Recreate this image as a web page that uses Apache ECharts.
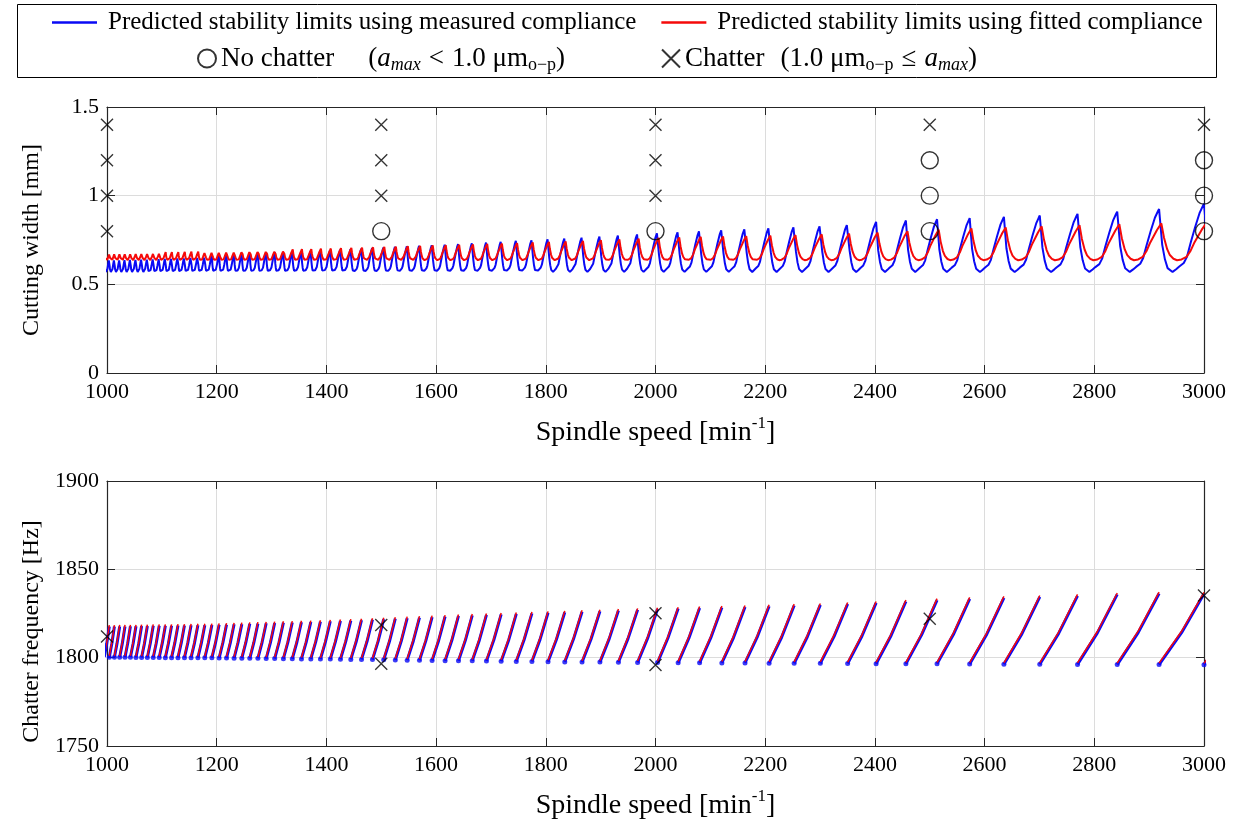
<!DOCTYPE html>
<html>
<head>
<meta charset="utf-8">
<script src="https://cdn.jsdelivr.net/npm/echarts@6/dist/echarts.min.js"></script>
<style>html,body{margin:0;padding:0;background:#fff;}#chart{width:1241px;height:830px;}</style>
</head>
<body>
<div id="chart"></div>
<script>
// ---------------- DATA ----------------
// Spindle speeds [min^-1] of the lobe cusps (where neighbouring stability lobes meet)
const cuspSpeeds = [995.0,1004.2,1013.5,1023.1,1032.8,1042.7,1052.8,1063.1,1073.6,1084.3,
  1095.2,1106.4,1117.7,1129.4,1141.2,1153.3,1165.7,1178.3,1191.2,1204.4,
  1217.9,1231.7,1245.8,1260.3,1275.1,1290.2,1305.7,1321.6,1337.8,1354.5,
  1371.6,1389.1,1407.1,1425.6,1444.5,1464.0,1484.0,1504.5,1525.6,1547.3,
  1569.7,1592.7,1616.4,1640.8,1665.9,1691.8,1718.6,1746.2,1774.7,1804.1,
  1834.6,1866.1,1898.7,1932.4,1967.4,2003.7,2041.3,2080.4,2121.0,2163.2,
  2207.1,2252.8,2300.5,2350.3,2402.2,2456.5,2513.3,2572.8,2635.2,2700.6,
  2769.4,2841.8,2918.1,3000.0,3085.0];
// Cutting width [mm] at each cusp (lobe peak) – measured compliance (blue)
const peakMeasured = [0.645,0.645,0.645,0.646,0.647,0.648,0.649,0.650,0.651,0.652,
  0.653,0.655,0.656,0.658,0.659,0.661,0.662,0.664,0.666,0.668,
  0.670,0.672,0.674,0.676,0.678,0.680,0.682,0.684,0.687,0.689,
  0.692,0.694,0.697,0.700,0.703,0.706,0.710,0.713,0.717,0.720,
  0.723,0.727,0.730,0.734,0.738,0.742,0.747,0.752,0.756,0.761,
  0.766,0.771,0.777,0.783,0.790,0.797,0.803,0.808,0.814,0.820,
  0.826,0.832,0.838,0.845,0.852,0.860,0.867,0.873,0.880,0.888,
  0.897,0.910,0.925,0.955,0.970];
// Cutting width [mm] at each cusp – fitted compliance (red)
const peakFitted = [0.675,0.675,0.676,0.676,0.677,0.677,0.678,0.678,0.679,0.679,
  0.680,0.681,0.681,0.682,0.683,0.684,0.684,0.685,0.686,0.687,
  0.688,0.689,0.690,0.691,0.692,0.693,0.694,0.695,0.697,0.698,
  0.699,0.701,0.702,0.704,0.705,0.707,0.709,0.711,0.713,0.715,
  0.717,0.719,0.721,0.723,0.725,0.728,0.730,0.733,0.736,0.739,
  0.742,0.745,0.749,0.753,0.757,0.762,0.765,0.768,0.770,0.772,
  0.775,0.778,0.782,0.786,0.792,0.800,0.808,0.815,0.821,0.827,
  0.833,0.839,0.844,0.846,0.850];
// Lobe bottoms [mm]
const troughMeasured = 0.570;
const troughFitted = 0.636;
// Shape of one lobe, read from the large lobes near 2800 min^-1:
// [position in lobe (0 = left cusp, 1 = right cusp), height (0 = trough, 1 = peak), which peak it refers to]
const lobeShapeMeasured = [[0,1,'L'],[0.07,0.43,'L'],[0.13,0.2,'L'],[0.19,0.06,'L'],[0.30,0,'L'],
  [0.38,0.04,'R'],[0.45,0.08,'R'],[0.55,0.13,'R'],[0.62,0.22,'R'],[0.70,0.42,'R'],
  [0.80,0.65,'R'],[0.90,0.86,'R'],[0.97,0.96,'R'],[1,1,'R']];
const lobeShapeFitted = [[0.05,1,'L'],[0.11,0.61,'L'],[0.18,0.30,'L'],[0.24,0.14,'L'],[0.32,0.04,'L'],
  [0.40,0,'L'],[0.50,0.02,'R'],[0.61,0.09,'R'],[0.70,0.25,'R'],[0.78,0.46,'R'],
  [0.87,0.65,'R'],[0.95,0.82,'R'],[1.05,1,'R']];
// Chatter frequency [Hz] at the start (left cusp) and end (right cusp) of each lobe
const freqStartMeasured = [1800.3,1800.2,1800.2,1800.2,1800.2,1800.2,1800.1,1800.1,1800.1,1800.1,
  1800.1,1800.0,1800.0,1800.0,1800.0,1800.0,1799.9,1799.9,1799.9,1799.8,
  1799.8,1799.7,1799.7,1799.6,1799.6,1799.5,1799.5,1799.4,1799.4,1799.3,
  1799.3,1799.2,1799.2,1799.1,1799.0,1799.0,1798.9,1798.8,1798.7,1798.6,
  1798.5,1798.4,1798.3,1798.3,1798.2,1798.1,1798.0,1797.9,1797.8,1797.7,
  1797.6,1797.5,1797.5,1797.4,1797.3,1797.2,1797.1,1797.1,1797.0,1797.0,
  1796.9,1796.8,1796.8,1796.7,1796.6,1796.5,1796.5,1796.4,1796.3,1796.3,
  1796.2,1796.1,1796.1,1796.0,1796.0];
const freqEndMeasured = [1817.5,1817.6,1817.6,1817.7,1817.7,1817.8,1817.8,1817.9,1817.9,1818.0,
  1818.0,1818.1,1818.1,1818.2,1818.2,1818.3,1818.4,1818.4,1818.5,1818.6,
  1818.7,1818.9,1819.0,1819.2,1819.3,1819.5,1819.6,1819.8,1819.9,1820.1,
  1820.2,1820.4,1820.6,1820.8,1821.0,1821.2,1821.5,1821.8,1822.1,1822.4,
  1822.7,1823.0,1823.3,1823.6,1823.9,1824.2,1824.5,1824.8,1825.1,1825.4,
  1825.7,1826.0,1826.3,1826.7,1827.1,1827.5,1827.8,1828.1,1828.4,1828.7,
  1829.1,1829.5,1829.9,1830.4,1831.0,1831.8,1832.6,1833.3,1833.9,1834.4,
  1835.0,1835.8,1836.3,1836.2,1836.5];
const freqStartFitted = [1801.1,1801.0,1801.0,1801.0,1801.0,1801.0,1800.9,1800.9,1800.9,1800.9,
  1800.9,1800.8,1800.8,1800.8,1800.8,1800.8,1800.7,1800.7,1800.7,1800.6,
  1800.6,1800.5,1800.5,1800.4,1800.4,1800.3,1800.3,1800.2,1800.2,1800.1,
  1800.1,1800.0,1800.0,1799.9,1799.8,1799.8,1799.7,1799.6,1799.5,1799.4,
  1799.3,1799.2,1799.1,1799.1,1799.0,1798.9,1798.8,1798.7,1798.6,1798.5,
  1798.4,1798.3,1798.3,1798.2,1798.1,1798.0,1797.9,1797.9,1797.8,1797.8,
  1797.7,1797.6,1797.6,1797.5,1797.4,1797.3,1797.3,1797.2,1797.1,1797.1,
  1797.0,1796.9,1796.9,1796.8,1796.8];
const freqEndFitted = [1818.3,1818.4,1818.4,1818.5,1818.5,1818.6,1818.6,1818.7,1818.7,1818.8,
  1818.8,1818.9,1818.9,1819.0,1819.0,1819.1,1819.2,1819.2,1819.3,1819.4,
  1819.5,1819.7,1819.8,1820.0,1820.1,1820.3,1820.4,1820.6,1820.7,1820.9,
  1821.0,1821.2,1821.4,1821.6,1821.8,1822.0,1822.3,1822.6,1822.9,1823.2,
  1823.5,1823.8,1824.1,1824.4,1824.7,1825.0,1825.3,1825.6,1825.9,1826.2,
  1826.5,1826.8,1827.1,1827.5,1827.9,1828.3,1828.6,1828.9,1829.2,1829.5,
  1829.9,1830.3,1830.7,1831.2,1831.8,1832.6,1833.4,1834.1,1834.7,1835.2,
  1835.8,1836.6,1837.1,1837.0,1837.3];
// Curvature of one frequency segment: [position in lobe, fraction of the rise]
const freqShape = [[0,0],[0.5,0.45],[1,1]];
// Cutting tests
const noChatterTests = [[1500,0.8],[2000,0.8],[2500,1.2],[2500,1.0],[2500,0.8],[3000,1.2],[3000,1.0],[3000,0.8]];
const chatterTests = [[1000,1.4],[1000,1.2],[1000,1.0],[1000,0.8],[1500,1.4],[1500,1.2],[1500,1.0],
  [2000,1.4],[2000,1.2],[2000,1.0],[2500,1.4],[3000,1.4]];
const chatterFrequencies = [[1000,1812.0],[1500,1818.5],[1500,1796.5],[2000,1825.2],[2000,1795.8],[2500,1822.0],[3000,1835.2]];
// Axes
const speedRange = [1000, 3000, 200];
const widthRange = [0, 1.5, 0.5];
const freqRange = [1750, 1900, 50];
const nameMeasured = 'Predicted stability limits using measured compliance';
const nameFitted = 'Predicted stability limits using fitted compliance';
const nameNoChatter = 'No chatter';
const nameChatter = 'Chatter';

// ---------------- BUILD CURVES FROM THE ARRAYS ----------------
function lobeCurve(peaks, trough, shape) {
  const pts = [];
  const n = cuspSpeeds.length - 1;
  for (let i = 0; i < n; i++) {
    const left = cuspSpeeds[i], right = cuspSpeeds[i + 1], w = right - left;
    shape.forEach((p, k) => {
      if (k === shape.length - 1 && i < n - 1) return;
      const peak = p[2] === 'L' ? peaks[i] : peaks[i + 1];
      pts.push([left + p[0] * w, trough + p[1] * (peak - trough)]);
    });
  }
  return pts;
}
function freqSegments(fs, fe) {
  const pts = [];
  for (let i = 0; i < cuspSpeeds.length - 1; i++) {
    const left = cuspSpeeds[i], right = cuspSpeeds[i + 1], w = right - left;
    freqShape.forEach(p => pts.push([left + p[0] * w, fs[i] + p[1] * (fe[i + 1] - fs[i])]));
    pts.push([right, '-']);
  }
  return pts;
}
const segStartDots = cuspSpeeds.slice(0, -1).map((s, i) => [s, freqStartMeasured[i]]);

// ---------------- CHART ----------------
const FONT = "'Liberation Serif','Times New Roman',serif";
const AX = '#262626';
const GRIDC = '#dcdcdc';
const BLUE = '#0a0af5';
const RED = '#f50a0a';
const xSym = 'path://M0,0L10,10M10,0L0,10';
const plainNum = v => String(v);

function xAxes(gridIndex) {
  const base = {type: 'value', gridIndex, min: speedRange[0], max: speedRange[1], interval: speedRange[2]};
  return [
    Object.assign({}, base, {
      position: 'bottom',
      name: 'Spindle speed [min{sup|-1}]', nameLocation: 'middle', nameGap: 42,
      nameTextStyle: {fontFamily: FONT, fontSize: 28, color: '#000',
        rich: {sup: {fontFamily: FONT, fontSize: 17, color: '#000', padding: [0, 0, 18, 0]}}},
      axisLine: {show: true, onZero: false, lineStyle: {color: AX, width: 1.2}},
      axisTick: {show: true, inside: true, length: 8, lineStyle: {color: AX}},
      axisLabel: {fontFamily: FONT, fontSize: 22, color: '#000', margin: 8, formatter: plainNum},
      splitLine: {show: true, lineStyle: {color: GRIDC, width: 1}}
    }),
    Object.assign({}, base, {
      position: 'top',
      axisLine: {show: true, onZero: false, lineStyle: {color: AX, width: 1.2}},
      axisTick: {show: true, inside: true, length: 8, lineStyle: {color: AX}},
      axisLabel: {show: false}, splitLine: {show: false}
    })
  ];
}
function yAxes(gridIndex, range, name, namePad) {
  const base = {type: 'value', gridIndex, min: range[0], max: range[1], interval: range[2]};
  return [
    Object.assign({}, base, {
      position: 'left', name, nameLocation: 'middle', nameGap: 63,
      nameTextStyle: {fontFamily: FONT, fontSize: 24, color: '#000', padding: namePad},
      axisLine: {show: true, onZero: false, lineStyle: {color: AX, width: 1.2}},
      axisTick: {show: true, inside: true, length: 8, lineStyle: {color: AX}},
      axisLabel: {fontFamily: FONT, fontSize: 22, color: '#000', margin: 8, formatter: plainNum},
      splitLine: {show: true, lineStyle: {color: GRIDC, width: 1}}
    }),
    Object.assign({}, base, {
      position: 'right',
      axisLine: {show: true, onZero: false, lineStyle: {color: AX, width: 1.2}},
      axisTick: {show: true, inside: true, length: 8, lineStyle: {color: AX}},
      axisLabel: {show: false}, splitLine: {show: false}
    })
  ];
}

const legendRich = {
  it: {fontFamily: FONT, fontStyle: 'italic', fontSize: 27, color: '#000'},
  subit: {fontFamily: FONT, fontStyle: 'italic', fontSize: 18, color: '#000', padding: [14, 0, 0, 0]},
  sub: {fontFamily: FONT, fontSize: 18, color: '#000', padding: [14, 0, 0, 0]},
  op: {fontFamily: FONT, fontSize: 27, color: '#000', padding: [0, 8, 0, 8]},
  gapA: {width: 34},
  gapB: {width: 16}
};

const option = {
  animation: false,
  backgroundColor: '#fff',
  graphic: [{type: 'rect', shape: {x: 17.5, y: 4.5, width: 1199, height: 73},
    style: {fill: 'none', stroke: '#000', lineWidth: 1}, silent: true}],
  legend: [
    {data: [nameMeasured, nameFitted], left: 47, top: 5, icon: 'rect', itemWidth: 45, itemHeight: 2.5, itemGap: 25,
      selectedMode: false, textStyle: {fontFamily: FONT, fontSize: 25, color: '#000', padding: [0, 0, 0, 6]}},
    {data: [nameNoChatter, nameChatter], left: 192, top: 40, itemWidth: 18, itemHeight: 18, itemGap: 96,
      selectedMode: false,
      textStyle: {fontFamily: FONT, fontSize: 27, color: '#000', rich: legendRich},
      formatter: function (name) {
        if (name === nameNoChatter) return 'No chatter{gapA|}({it|a}{subit|max}{op|<}1.0 μm{sub|o−p})';
        return 'Chatter{gapB|}(1.0 μm{sub|o−p}{op|≤}{it|a}{subit|max})';
      }}
  ],
  grid: [
    {left: 107, top: 107, width: 1097, height: 266},
    {left: 107, top: 481, width: 1097, height: 265}
  ],
  xAxis: [...xAxes(0), ...xAxes(1)],
  yAxis: [...yAxes(0, widthRange, 'Cutting width [mm]', [0, 0, 0, 0]),
          ...yAxes(1, freqRange, 'Chatter frequency [Hz]', [0, 36, 0, 0])],
  series: [
    {name: nameMeasured, type: 'line', xAxisIndex: 0, yAxisIndex: 0, data: lobeCurve(peakMeasured, troughMeasured, lobeShapeMeasured),
      showSymbol: false, symbol: 'none', lineStyle: {color: BLUE, width: 2}, itemStyle: {color: BLUE}, z: 3},
    {name: nameFitted, type: 'line', xAxisIndex: 0, yAxisIndex: 0, data: lobeCurve(peakFitted, troughFitted, lobeShapeFitted),
      showSymbol: false, symbol: 'none', lineStyle: {color: RED, width: 2}, itemStyle: {color: RED}, z: 4},
    {name: nameNoChatter, type: 'scatter', xAxisIndex: 0, yAxisIndex: 0, data: noChatterTests, symbol: 'circle', symbolSize: 17,
      itemStyle: {color: 'rgba(0,0,0,0)', borderColor: '#000', borderWidth: 1.4}, z: 5},
    {name: nameChatter, type: 'scatter', xAxisIndex: 0, yAxisIndex: 0, data: chatterTests, symbol: xSym, symbolSize: 12,
      itemStyle: {color: 'rgba(0,0,0,0)', borderColor: '#000', borderWidth: 1.4}, z: 5},
    {name: nameMeasured, type: 'line', xAxisIndex: 2, yAxisIndex: 2, data: freqSegments(freqStartMeasured, freqEndMeasured),
      connectNulls: false, showSymbol: false, symbol: 'none', lineStyle: {color: BLUE, width: 3}, itemStyle: {color: BLUE}, z: 3},
    {name: 'segment start', type: 'scatter', xAxisIndex: 2, yAxisIndex: 2, data: segStartDots, symbol: 'circle', symbolSize: 5,
      itemStyle: {color: BLUE}, z: 3},
    {name: nameFitted, type: 'line', xAxisIndex: 2, yAxisIndex: 2, data: freqSegments(freqStartFitted, freqEndFitted),
      connectNulls: false, showSymbol: false, symbol: 'none', lineStyle: {color: RED, width: 1.5}, itemStyle: {color: RED}, z: 4},
    {name: nameChatter, type: 'scatter', xAxisIndex: 2, yAxisIndex: 2, data: chatterFrequencies, symbol: xSym, symbolSize: 12,
      itemStyle: {color: 'rgba(0,0,0,0)', borderColor: '#000', borderWidth: 1.4}, z: 5}
  ]
};
const chart = echarts.init(document.getElementById('chart'), null, {renderer: 'canvas'});
chart.setOption(option);
</script>
</body>
</html>
